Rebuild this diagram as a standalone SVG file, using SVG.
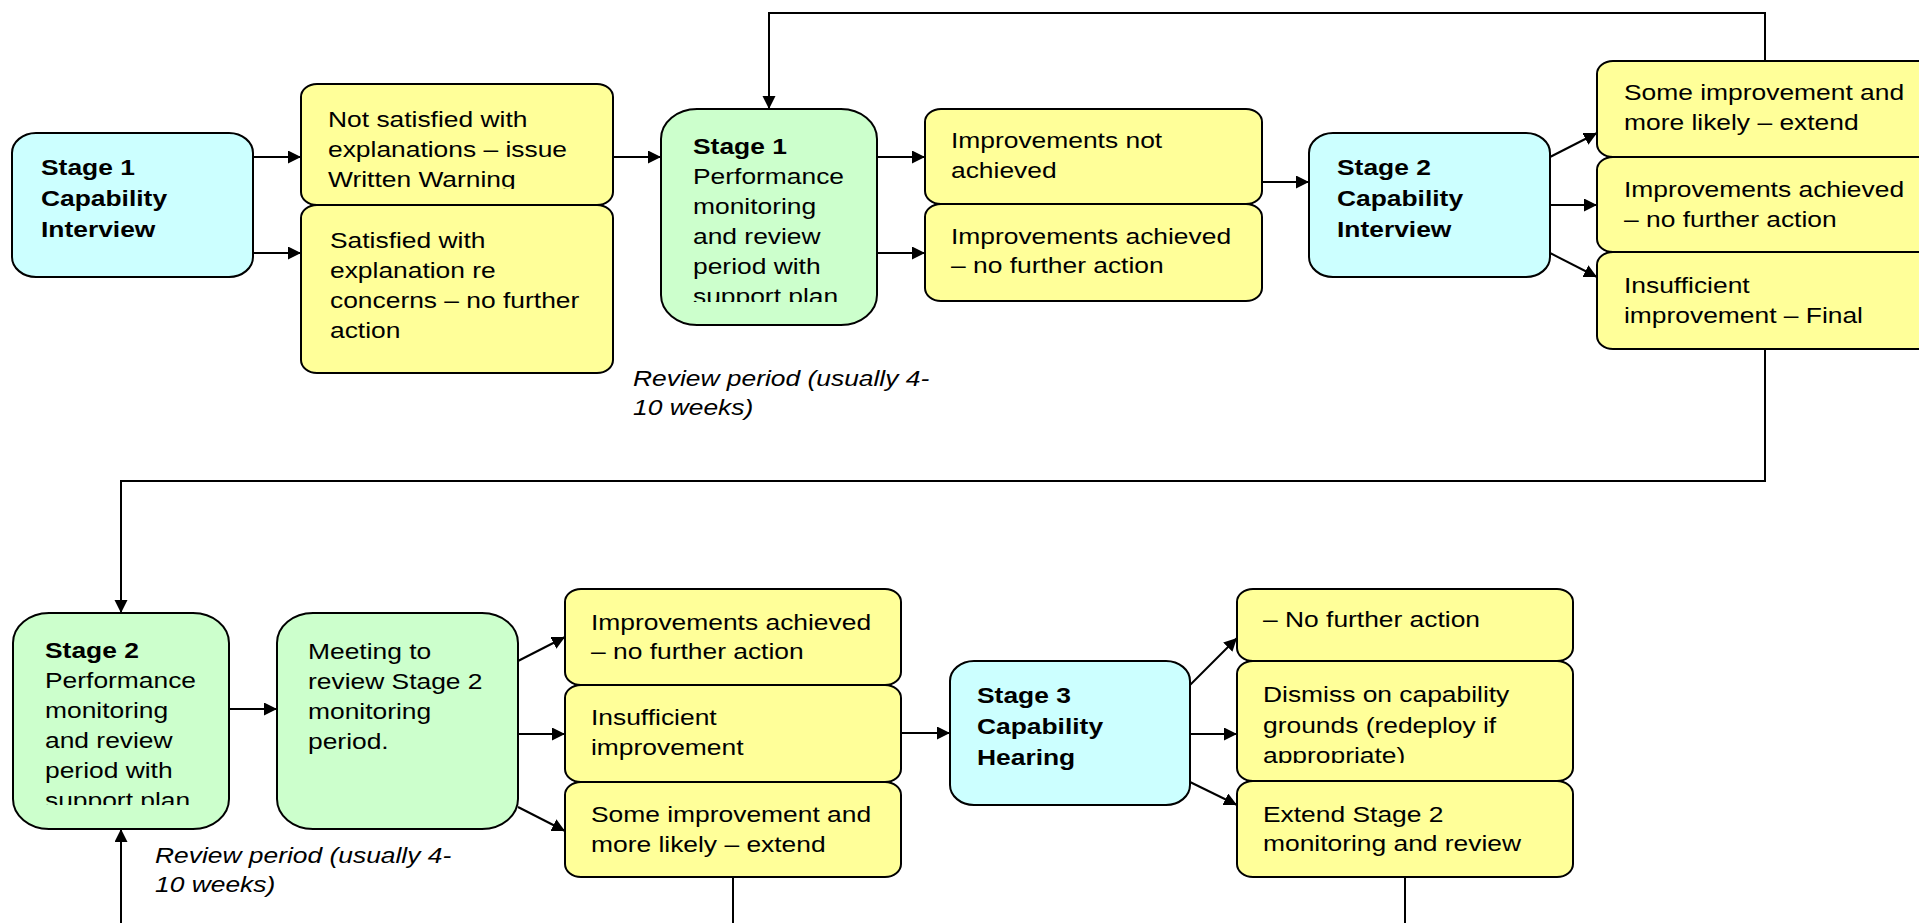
<svg xmlns="http://www.w3.org/2000/svg" width="1919" height="923" viewBox="0 0 1919 923">
<style>
.c{fill:#CCFFFF;stroke:#000;stroke-width:2}
.g{fill:#CCFFCC;stroke:#000;stroke-width:2}
.y{fill:#FFFF99;stroke:#000;stroke-width:2}
text{font-family:"Liberation Sans",Arial,sans-serif;font-size:22px;fill:#000}
.b{font-weight:bold}
.i{font-style:italic}
.ln{fill:none;stroke:#000;stroke-width:2}
</style>
<defs>
<marker id="ah" markerUnits="userSpaceOnUse" markerWidth="14" markerHeight="14" refX="13" refY="6.5" orient="auto">
<path d="M0,0 L13,6.5 L0,13 z" fill="#000"/>
</marker>
<clipPath id="cp1"><rect x="301" y="84" width="312" height="105"/></clipPath>
<clipPath id="cp2"><rect x="661" y="109" width="216" height="193"/></clipPath>
<clipPath id="cp3"><rect x="13" y="613" width="216" height="192"/></clipPath>
<clipPath id="cp4"><rect x="1237" y="661" width="336" height="102"/></clipPath>
</defs>
<rect width="1919" height="923" fill="#fff"/>

<g id="connectors">
<path class="ln" d="M253,157 H301" marker-end="url(#ah)"/>
<path class="ln" d="M253,253 H301" marker-end="url(#ah)"/>
<path class="ln" d="M613,157 H661" marker-end="url(#ah)"/>
<path class="ln" d="M877,157 H925" marker-end="url(#ah)"/>
<path class="ln" d="M877,253 H925" marker-end="url(#ah)"/>
<path class="ln" d="M1262,182 H1309" marker-end="url(#ah)"/>
<path class="ln" d="M1550,157 L1597,133" marker-end="url(#ah)"/>
<path class="ln" d="M1550,205 H1597" marker-end="url(#ah)"/>
<path class="ln" d="M1550,253 L1597,277" marker-end="url(#ah)"/>
<path class="ln" d="M1765,61 V13 H769 V109" marker-end="url(#ah)"/>
<path class="ln" d="M1765,349 V481 H121 V613" marker-end="url(#ah)"/>
<path class="ln" d="M229,709 H277" marker-end="url(#ah)"/>
<path class="ln" d="M518,661 L565,637" marker-end="url(#ah)"/>
<path class="ln" d="M518,734 H565" marker-end="url(#ah)"/>
<path class="ln" d="M518,807 L565,831" marker-end="url(#ah)"/>
<path class="ln" d="M901,733 H950" marker-end="url(#ah)"/>
<path class="ln" d="M1190,685 L1237,638" marker-end="url(#ah)"/>
<path class="ln" d="M1190,734 H1237" marker-end="url(#ah)"/>
<path class="ln" d="M1190,782 L1237,805" marker-end="url(#ah)"/>
<path class="ln" d="M121,923 V829" marker-end="url(#ah)"/>
<path class="ln" d="M733,877 V923"/>
<path class="ln" d="M1405,877 V923"/>
</g>

<g id="n-s1-interview">
<rect class="c" x="12" y="133" width="241" height="144" rx="24" ry="20"/>
<text class="b" transform="translate(41,0) scale(1.2,1)"><tspan x="0" y="175">Stage 1</tspan><tspan x="0" y="206">Capability</tspan><tspan x="0" y="237">Interview</tspan></text>
</g>

<g id="n-not-satisfied">
<rect class="y" x="301" y="84" width="312" height="121" rx="16" ry="13"/>
<g clip-path="url(#cp1)">
<text transform="translate(328,0) scale(1.2,1)"><tspan x="0" y="127">Not satisfied with</tspan><tspan x="0" y="157">explanations – issue</tspan><tspan x="0" y="187">Written Warning</tspan></text>
</g>
</g>

<g id="n-satisfied">
<rect class="y" x="301" y="205" width="312" height="168" rx="16" ry="13"/>
<text transform="translate(330,0) scale(1.2,1)"><tspan x="0" y="248">Satisfied with</tspan><tspan x="0" y="278">explanation re</tspan><tspan x="0" y="308">concerns – no further</tspan><tspan x="0" y="338">action</tspan></text>
</g>

<g id="n-s1-monitoring">
<rect class="g" x="661" y="109" width="216" height="216" rx="36" ry="30"/>
<g clip-path="url(#cp2)">
<text transform="translate(693,0) scale(1.2,1)"><tspan class="b" x="0" y="154">Stage 1</tspan><tspan x="0" y="184">Performance</tspan><tspan x="0" y="214">monitoring</tspan><tspan x="0" y="244">and review</tspan><tspan x="0" y="274">period with</tspan><tspan x="0" y="304">support plan</tspan></text>
</g>
</g>

<text class="i" transform="translate(633,0) scale(1.2,1)"><tspan x="0" y="386">Review period (usually 4-</tspan><tspan x="0" y="415">10 weeks)</tspan></text>

<g id="n-imp-not">
<rect class="y" x="925" y="109" width="337" height="95" rx="16" ry="13"/>
<text transform="translate(951,0) scale(1.2,1)"><tspan x="0" y="148">Improvements not</tspan><tspan x="0" y="178">achieved</tspan></text>
</g>

<g id="n-imp-achieved-1">
<rect class="y" x="925" y="204" width="337" height="97" rx="16" ry="13"/>
<text transform="translate(951,0) scale(1.2,1)"><tspan x="0" y="244">Improvements achieved</tspan><tspan x="0" y="273">– no further action</tspan></text>
</g>

<g id="n-s2-interview">
<rect class="c" x="1309" y="133" width="241" height="144" rx="24" ry="20"/>
<text class="b" transform="translate(1337,0) scale(1.2,1)"><tspan x="0" y="175">Stage 2</tspan><tspan x="0" y="206">Capability</tspan><tspan x="0" y="237">Interview</tspan></text>
</g>

<g id="n-some-imp-1">
<rect class="y" x="1597" y="61" width="400" height="96" rx="16" ry="13"/>
<text transform="translate(1624,0) scale(1.2,1)"><tspan x="0" y="100">Some improvement and</tspan><tspan x="0" y="130">more likely – extend</tspan></text>
</g>

<g id="n-imp-achieved-2">
<rect class="y" x="1597" y="157" width="400" height="95" rx="16" ry="13"/>
<text transform="translate(1624,0) scale(1.2,1)"><tspan x="0" y="197">Improvements achieved</tspan><tspan x="0" y="227">– no further action</tspan></text>
</g>

<g id="n-insufficient-final">
<rect class="y" x="1597" y="252" width="400" height="97" rx="16" ry="13"/>
<text transform="translate(1624,0) scale(1.2,1)"><tspan x="0" y="293">Insufficient</tspan><tspan x="0" y="323">improvement – Final</tspan></text>
</g>

<g id="n-s2-monitoring">
<rect class="g" x="13" y="613" width="216" height="216" rx="36" ry="30"/>
<g clip-path="url(#cp3)">
<text transform="translate(45,0) scale(1.2,1)"><tspan class="b" x="0" y="658">Stage 2</tspan><tspan x="0" y="688">Performance</tspan><tspan x="0" y="718">monitoring</tspan><tspan x="0" y="748">and review</tspan><tspan x="0" y="778">period with</tspan><tspan x="0" y="808">support plan</tspan></text>
</g>
</g>

<g id="n-meeting">
<rect class="g" x="277" y="613" width="241" height="216" rx="36" ry="30"/>
<text transform="translate(308,0) scale(1.2,1)"><tspan x="0" y="659">Meeting to</tspan><tspan x="0" y="689">review Stage 2</tspan><tspan x="0" y="719">monitoring</tspan><tspan x="0" y="749">period.</tspan></text>
</g>

<text class="i" transform="translate(155,0) scale(1.2,1)"><tspan x="0" y="863">Review period (usually 4-</tspan><tspan x="0" y="892">10 weeks)</tspan></text>

<g id="n-imp-achieved-3">
<rect class="y" x="565" y="589" width="336" height="96" rx="16" ry="13"/>
<text transform="translate(591,0) scale(1.2,1)"><tspan x="0" y="630">Improvements achieved</tspan><tspan x="0" y="659">– no further action</tspan></text>
</g>

<g id="n-insufficient">
<rect class="y" x="565" y="685" width="336" height="97" rx="16" ry="13"/>
<text transform="translate(591,0) scale(1.2,1)"><tspan x="0" y="725">Insufficient</tspan><tspan x="0" y="755">improvement</tspan></text>
</g>

<g id="n-some-imp-2">
<rect class="y" x="565" y="782" width="336" height="95" rx="16" ry="13"/>
<text transform="translate(591,0) scale(1.2,1)"><tspan x="0" y="822">Some improvement and</tspan><tspan x="0" y="852">more likely – extend</tspan></text>
</g>

<g id="n-s3-hearing">
<rect class="c" x="950" y="661" width="240" height="144" rx="24" ry="20"/>
<text class="b" transform="translate(977,0) scale(1.2,1)"><tspan x="0" y="703">Stage 3</tspan><tspan x="0" y="734">Capability</tspan><tspan x="0" y="765">Hearing</tspan></text>
</g>

<g id="n-no-further">
<rect class="y" x="1237" y="589" width="336" height="72" rx="16" ry="13"/>
<text transform="translate(1263,0) scale(1.2,1)"><tspan x="0" y="627">– No further action</tspan></text>
</g>

<g id="n-dismiss">
<rect class="y" x="1237" y="661" width="336" height="120" rx="16" ry="13"/>
<g clip-path="url(#cp4)">
<text transform="translate(1263,0) scale(1.2,1)"><tspan x="0" y="702">Dismiss on capability</tspan><tspan x="0" y="733">grounds (redeploy if</tspan><tspan x="0" y="763">appropriate)</tspan></text>
</g>
</g>

<g id="n-extend">
<rect class="y" x="1237" y="781" width="336" height="96" rx="16" ry="13"/>
<text transform="translate(1263,0) scale(1.2,1)"><tspan x="0" y="822">Extend Stage 2</tspan><tspan x="0" y="851">monitoring and review</tspan></text>
</g>
</svg>
